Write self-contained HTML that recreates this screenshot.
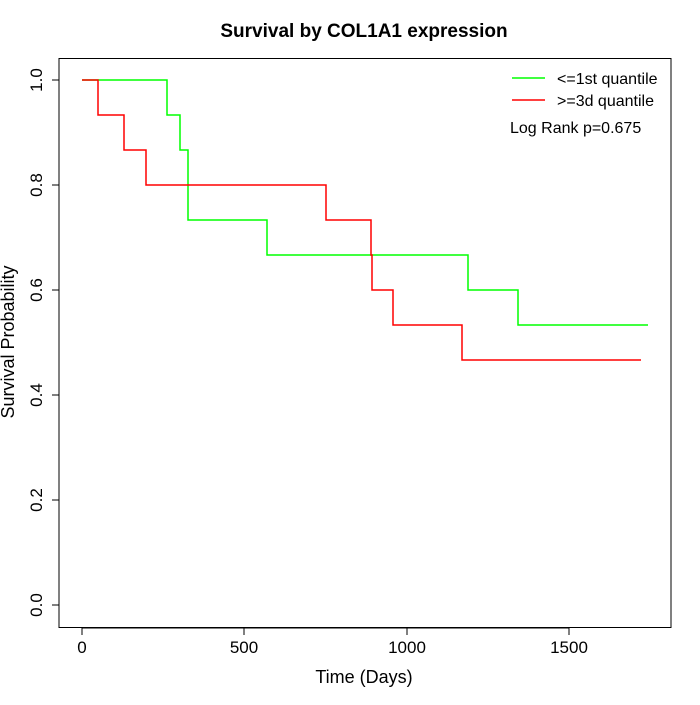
<!DOCTYPE html>
<html><head><meta charset="utf-8"><style>body{margin:0;background:#fff}</style></head><body>
<svg width="700" height="700" xmlns="http://www.w3.org/2000/svg" font-family="Liberation Sans, sans-serif">
<rect width="700" height="700" fill="#fff"/>
<text x="364" y="37" text-anchor="middle" font-size="19" font-weight="bold">Survival by COL1A1 expression</text>
<rect x="59" y="58.5" width="612" height="569" fill="none" stroke="#000" stroke-width="1"/>
<g stroke="#000" stroke-width="1">
<line x1="82" y1="628" x2="569" y2="628"/>
<line x1="82" y1="628" x2="82" y2="635"/><line x1="244" y1="628" x2="244" y2="635"/>
<line x1="407" y1="628" x2="407" y2="635"/><line x1="569" y1="628" x2="569" y2="635"/>
<line x1="59" y1="80" x2="59" y2="605"/>
<line x1="52" y1="80" x2="59" y2="80"/><line x1="52" y1="185" x2="59" y2="185"/>
<line x1="52" y1="290" x2="59" y2="290"/><line x1="52" y1="395" x2="59" y2="395"/>
<line x1="52" y1="500" x2="59" y2="500"/><line x1="52" y1="605" x2="59" y2="605"/>
</g>
<g font-size="17" text-anchor="middle">
<text x="82" y="653">0</text><text x="244" y="653">500</text><text x="407" y="653">1000</text><text x="569" y="653">1500</text>
<text x="364" y="683" font-size="18">Time (Days)</text>
<text transform="translate(42,80) rotate(-90)">1.0</text>
<text transform="translate(42,185) rotate(-90)">0.8</text>
<text transform="translate(42,290) rotate(-90)">0.6</text>
<text transform="translate(42,395) rotate(-90)">0.4</text>
<text transform="translate(42,500) rotate(-90)">0.2</text>
<text transform="translate(42,605) rotate(-90)">0.0</text>
<text transform="translate(14,342) rotate(-90)" font-size="18">Survival Probability</text>
</g>
<polyline fill="none" stroke="#00ff00" stroke-width="1.5" points="82,80 167,80 167,115 180,115 180,150 188,150 188,220 267,220 267,255 468,255 468,290 518,290 518,325 648,325"/>
<polyline fill="none" stroke="#ff0000" stroke-width="1.5" points="82,80 98,80 98,115 124,115 124,150 146,150 146,185 326,185 326,220 371,220 371,255 372,255 372,290 393,290 393,325 462,325 462,360 641,360"/>
<line x1="512" y1="78" x2="545" y2="78" stroke="#00ff00" stroke-width="1.5"/>
<line x1="512" y1="100" x2="545" y2="100" stroke="#ff0000" stroke-width="1.5"/>
<g font-size="16">
<text x="557" y="84">&lt;=1st quantile</text>
<text x="557" y="106">&gt;=3d quantile</text>
<text x="510" y="133">Log Rank p=0.675</text>
</g>
</svg>
</body></html>
